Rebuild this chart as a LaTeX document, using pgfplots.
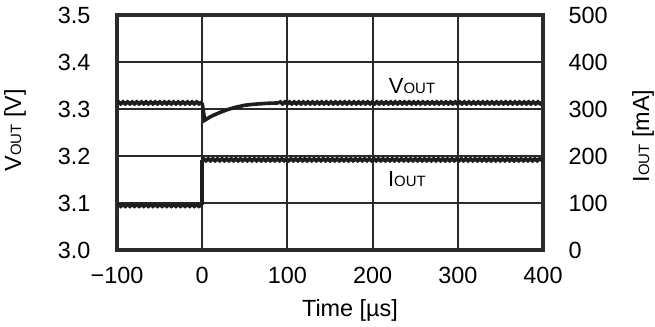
\documentclass[border=0pt]{standalone}
\usepackage{fontspec}
\setmainfont{Liberation Sans}
\usepackage{pgfplots}
\pgfplotsset{compat=1.18}
\usetikzlibrary{decorations.pathmorphing}
\definecolor{ink}{HTML}{2B2B2B}
\definecolor{trace}{HTML}{1E1E1E}
\newcommand{\sub}[1]{{\fontsize{15}{16}\selectfont #1}}
\begin{document}
\begin{tikzpicture}
\useasboundingbox (-117bp,-77bp) rectangle (538bp,250bp);
\pgfplotsset{
  base/.style={scale only axis, width=426bp, height=235bp,
    xmin=-100, xmax=400, at={(0,0)}, anchor=south west,
    major tick length=0pt,
    tick label style={font=\fontsize{23.5}{27}\selectfont, text=black},
    label style={font=\fontsize{23.5}{27}\selectfont, text=black}},
  rip/.style={trace, line width=3.8bp, decorate, decoration={snake, amplitude=0.9bp, segment length=4.6bp}},
  plain/.style={trace, line width=3.6bp}
}
\begin{axis}[base,
  ymin=3.0, ymax=3.5,
  xtick={-100,0,100,200,300,400},
  xticklabels={−100,0,100,200,300,400},
  ytick={3.0,3.1,3.2,3.3,3.4,3.5},
  yticklabels={3.0,3.1,3.2,3.3,3.4,3.5},
  grid=major, major grid style={ink, line width=2bp},
  axis line style={ink, line width=3.2bp},
  yticklabel style={anchor=east, xshift=-23bp},
  xticklabel style={anchor=north, yshift=-14bp},
  xlabel={Time [µs]},
  xlabel style={anchor=base, at={(axis description cs:0.547,-0.281)}},
  ylabel={V\sub{OUT} [V]},
  ylabel style={anchor=center, at={(axis description cs:-0.2394,0.51)}},
]
\addplot[rip] coordinates {(-100,3.313) (0,3.313)};
\addplot[plain] coordinates {(0,3.313) (1,3.300) (3,3.276) (10,3.284) (20,3.292) (30,3.299) (40,3.304) (50,3.308) (60,3.310) (75,3.312) (90,3.313)};
\addplot[rip] coordinates {(90,3.313) (400,3.313)};
\node[anchor=base west, inner sep=0pt, font=\fontsize{22}{26}\selectfont] at (axis cs:219,3.334) {V\sub{OUT}};
\node[anchor=base west, inner sep=0pt, font=\fontsize{22}{26}\selectfont] at (axis cs:218,3.136) {I\sub{OUT}};
\end{axis}
\begin{axis}[base,
  ymin=0, ymax=500,
  axis y line*=right, axis x line=none,
  ytick={0,100,200,300,400,500},
  yticklabels={0,100,200,300,400,500},
  axis line style={ink, line width=3.2bp},
  yticklabel style={anchor=west, xshift=22bp},
  ylabel={I\sub{OUT} [mA]},
  ylabel style={anchor=center, rotate=0, at={(axis description cs:1.2347,0.485)}},
]
\addplot[rip] coordinates {(-100,95) (0,95)};
\addplot[plain] coordinates {(0,95) (0,192)};
\addplot[rip] coordinates {(0,192) (400,192)};
\end{axis}
\end{tikzpicture}
\end{document}
